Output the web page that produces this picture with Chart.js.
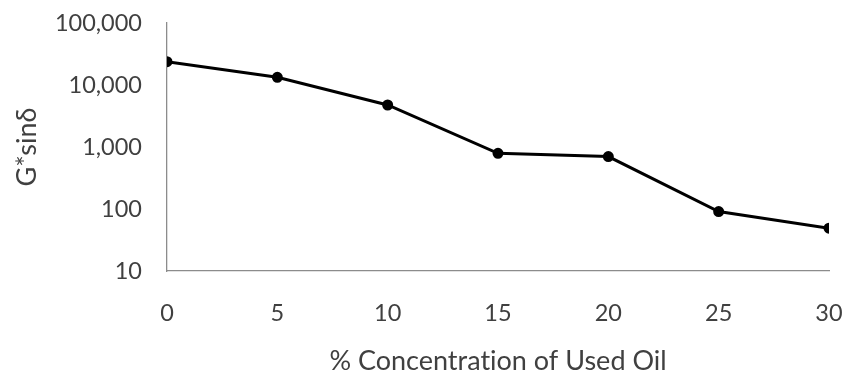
<!DOCTYPE html>
<html>
<head>
<meta charset="utf-8">
<script src="https://cdn.jsdelivr.net/npm/chart.js@4/dist/chart.umd.min.js"></script>
<style>
html,body{margin:0;padding:0;background:#fff;}
#wrap{width:843px;height:373px;position:relative;}
</style>
</head>
<body>
<div id="wrap"><canvas id="c" width="843" height="373"></canvas></div>
<script>
const concentrations = [0, 5, 10, 15, 20, 25, 30];
const gSinDelta = [23800, 13300, 4760, 790, 700, 91, 49];
const yTickValues = [10, 100, 1000, 10000, 100000];
const xTitle = "% Concentrat\u200Cion of Used Oil";
const yTitle = "G*sinδ";

const points = concentrations.map((x, i) => ({x: x, y: gSinDelta[i]}));
const FONT = "Lato";
const TXT = "#404040";

new Chart(document.getElementById('c'), {
  type: 'line',
  data: {
    datasets: [{
      data: points,
      borderColor: '#000',
      backgroundColor: '#000',
      borderWidth: 3,
      pointRadius: 4,
      pointHoverRadius: 4,
      tension: 0,
      fill: false
    }]
  },
  options: {
    responsive: false,
    animation: false,
    devicePixelRatio: 1,
    layout: {padding: {left: 0, right: 14, top: 23, bottom: 0}},
    plugins: {legend: {display: false}, tooltip: {enabled: false}},
    scales: {
      x: {
        type: 'linear',
        min: 0, max: 30,
        afterFit: s => { s.height = 102; s.paddingLeft = 0; s.paddingRight = 0; },
        grid: {display: false, drawTicks: false},
        border: {display: true, color: '#8c8c8c', width: 1.3},
        ticks: {stepSize: 5, padding: 28, color: TXT, font: {family: FONT, size: 23.5}},
        title: {display: true, text: xTitle, color: TXT, font: {family: FONT, size: 27, lineHeight: 0.9}, padding: {top: 0, bottom: 0}}
      },
      y: {
        type: 'logarithmic',
        min: 10, max: 100000,
        afterFit: s => { s.width = 167; s.paddingTop = 0; s.paddingBottom = 0; },
        afterBuildTicks: s => { s.ticks = yTickValues.map(v => ({value: v})); },
        grid: {display: false, drawTicks: false},
        border: {display: true, color: '#8c8c8c', width: 1.3},
        ticks: {
          padding: 25, color: TXT, font: {family: FONT, size: 23.5},
          callback: v => Number(v).toLocaleString('en-US')
        },
        title: {display: true, text: yTitle, color: TXT, font: {family: FONT, size: 27, lineHeight: 1.0}, padding: {top: 14, bottom: 0}}
      }
    }
  }
});
</script>
</body>
</html>
